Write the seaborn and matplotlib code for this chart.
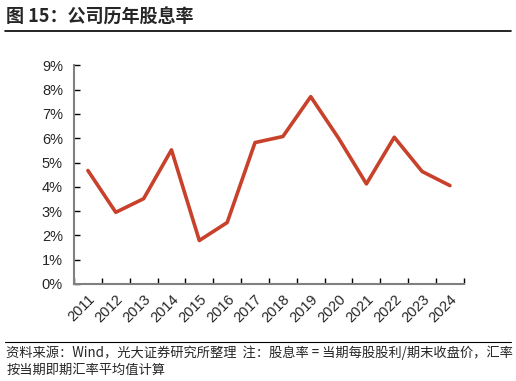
import matplotlib
matplotlib.use('Agg')
import matplotlib.pyplot as plt
import seaborn as sns
import pandas as pd
from matplotlib.ticker import PercentFormatter, FixedLocator

# 数据
years = ['2011', '2012', '2013', '2014', '2015', '2016', '2017',
         '2018', '2019', '2020', '2021', '2022', '2023', '2024']
dividend_yield = [4.67, 2.95, 3.51, 5.52, 1.79, 2.53, 5.82,
                  6.07, 7.71, 6.00, 4.12, 6.04, 4.63, 4.05]

title_text = '图 15：公司历年股息率'
note_line1 = '资料来源：Wind，光大证券研究所整理  注：股息率 = 当期每股股利/期末收盘价，汇率'
note_line2 = '按当期即期汇率平均值计算'

df = pd.DataFrame({'year': years, 'yield': dividend_yield})

sns.set_style('white')
plt.rcParams['font.family'] = ['Liberation Sans', 'Noto Sans CJK SC', 'DejaVu Sans']
cjk = ['Noto Sans CJK SC', 'DejaVu Sans']

fig = plt.figure(figsize=(5.16, 3.81), dpi=100)
ax = fig.add_axes([0.1434, 0.2546, 0.7556, 0.574])

sns.lineplot(data=df, x='year', y='yield', ax=ax, color='#C8412A',
             linewidth=2.6, sort=False)

ax.set_xlim(-0.5, len(years) - 0.5)
ax.set_ylim(0, 9)
ax.set_yticks(range(0, 10))
ax.yaxis.set_major_formatter(PercentFormatter(decimals=0))
ax.set_xticks(range(len(years)))
ax.set_xticklabels(years, rotation=45, ha='right', rotation_mode='anchor')
ax.xaxis.set_minor_locator(FixedLocator([i - 0.5 for i in range(len(years) + 1)]))
ax.tick_params(axis='x', which='major', length=0, pad=6, labelsize=10.5)
ax.tick_params(axis='x', which='minor', length=4, width=1, color='#000000',
               direction='in', bottom=True)
ax.tick_params(axis='y', length=4, width=1, color='#000000', direction='in',
               left=True, labelsize=10.5, pad=8)
ax.set_xlabel('')
ax.set_ylabel('')

for side in ['top', 'right']:
    ax.spines[side].set_visible(False)
for side in ['left', 'bottom']:
    ax.spines[side].set_color('#808080')
    ax.spines[side].set_linewidth(1.5)

# 标题和注释
fig.text(0.012, 0.955, title_text, fontsize=13, fontweight='bold',
         family=cjk, va='center', ha='left')
fig.add_artist(plt.Line2D([0.01, 0.99], [0.918, 0.918], color='black',
                          linewidth=1.2, transform=fig.transFigure))
fig.add_artist(plt.Line2D([0.01, 0.99], [0.102, 0.102], color='black',
                          linewidth=0.8, transform=fig.transFigure))
fig.text(0.012, 0.075, note_line1, fontsize=9.55, family=cjk,
         va='center', ha='left')
fig.text(0.012, 0.028, note_line2, fontsize=9.55, family=cjk,
         va='center', ha='left')

fig.savefig('out.png', dpi=100)
